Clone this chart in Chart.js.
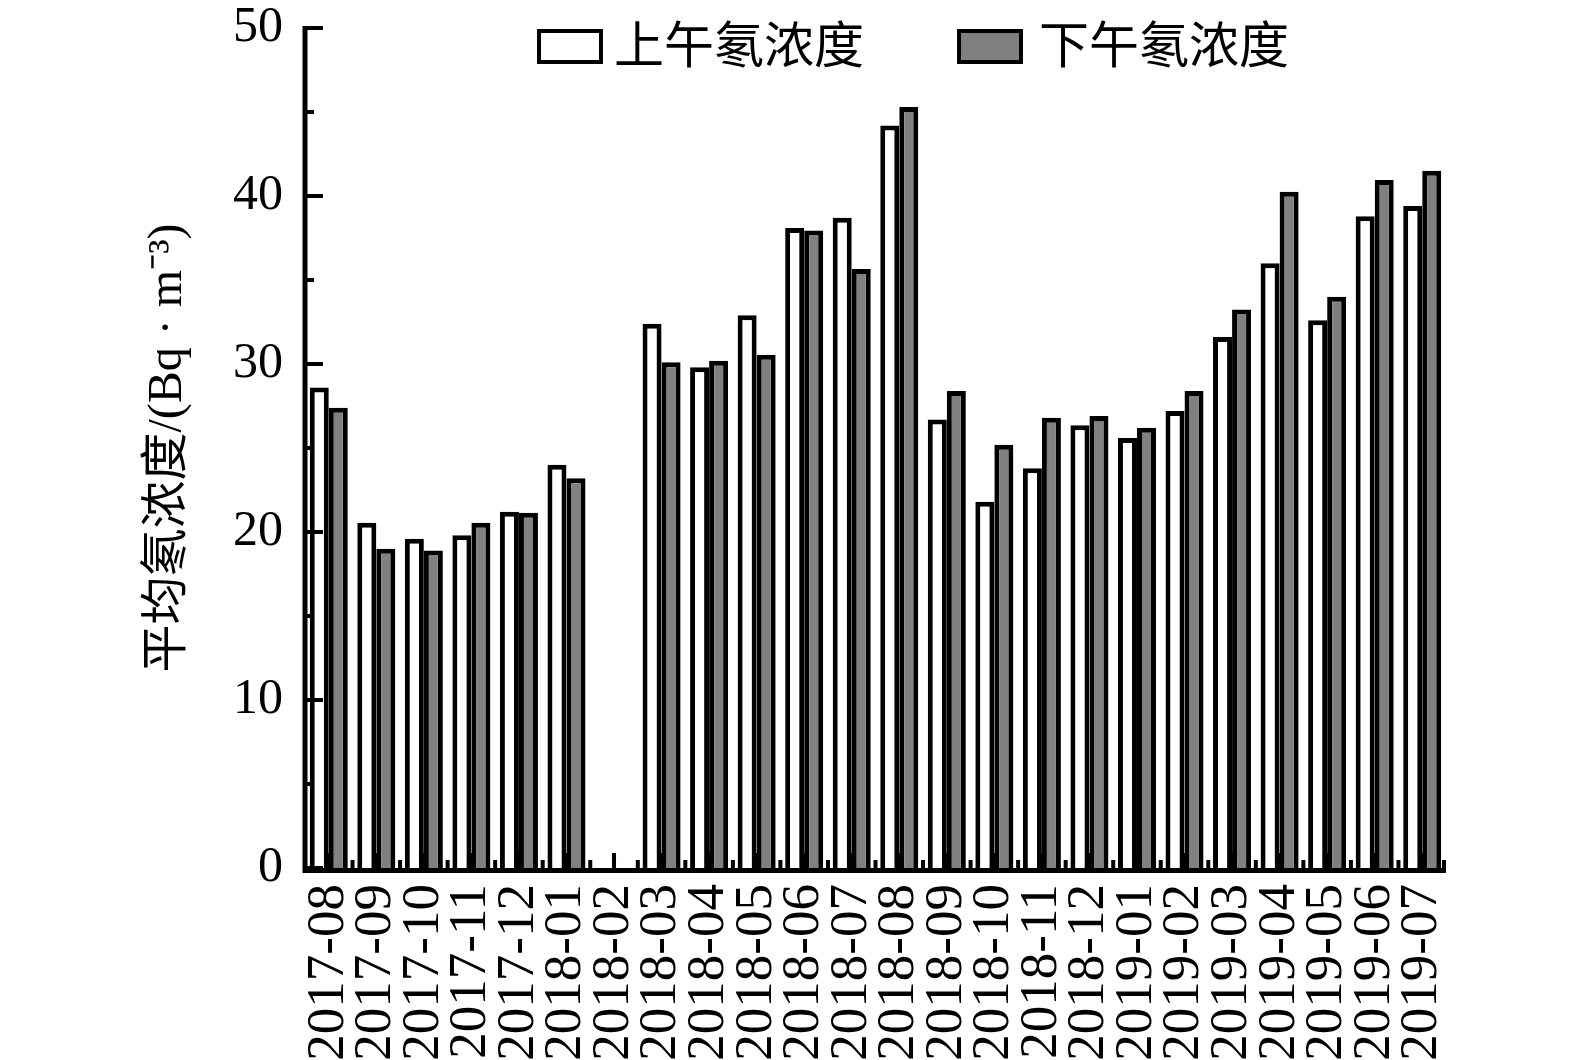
<!DOCTYPE html>
<html>
<head>
<meta charset="utf-8">
<script src="https://cdn.jsdelivr.net/npm/chart.js@4"></script>
<style>
  html, body { margin: 0; padding: 0; background: #fff; }
  canvas { display: block; }
</style>
</head>
<body>
<canvas id="radonChart" width="1575" height="1060"></canvas>
<script>
const months = ['2017-08', '2017-09', '2017-10', '2017-11', '2017-12', '2018-01', '2018-02', '2018-03',
  '2018-04', '2018-05', '2018-06', '2018-07', '2018-08', '2018-09', '2018-10', '2018-11', '2018-12',
  '2019-01', '2019-02', '2019-03', '2019-04', '2019-05', '2019-06', '2019-07'];
const morning = [28.6, 20.55, 19.6, 19.8, 21.2, 24.0, null, 32.4,
  29.8, 32.9, 38.1, 38.7, 44.2, 26.7, 21.8, 23.8, 26.35,
  25.6, 27.2, 31.6, 36.0, 32.6, 38.8, 39.4];
const afternoon = [27.4, 19.0, 18.9, 20.55, 21.15, 23.2, null, 30.1,
  30.2, 30.55, 37.95, 35.65, 45.3, 28.4, 25.2, 26.8, 26.9,
  26.2, 28.4, 33.25, 40.25, 34.0, 40.95, 41.5];
const yTicks = [0, 10, 20, 30, 40, 50];
const yMinorTicks = [5, 15, 25, 35, 45];

const serif = "'Liberation Serif', 'Times New Roman', serif";
const cjk = "'Noto Sans CJK SC', sans-serif";

// inward ticks, axis lines and the legend
const axisDecor = {
  id: 'axisDecor',
  afterDatasetsDraw(chart) {
    const { ctx, chartArea: a, scales: { x, y } } = chart;
    ctx.save();
    ctx.strokeStyle = '#000';
    ctx.lineWidth = 4;
    ctx.beginPath();
    yTicks.forEach(v => { const p = y.getPixelForValue(v); ctx.moveTo(a.left, p); ctx.lineTo(a.left + 18, p); });
    yMinorTicks.forEach(v => { const p = y.getPixelForValue(v); ctx.moveTo(a.left, p); ctx.lineTo(a.left + 9, p); });
    months.forEach((m, i) => {
      const c = x.getPixelForValue(i);
      ctx.moveTo(c, a.bottom); ctx.lineTo(c, a.bottom - 15);
      if (i < months.length - 1) {
        const b = (c + x.getPixelForValue(i + 1)) / 2;
        ctx.moveTo(b, a.bottom); ctx.lineTo(b, a.bottom - 8);
      }
    });
    ctx.moveTo(a.right - 2, a.bottom); ctx.lineTo(a.right - 2, a.bottom - 8);
    ctx.stroke();

    ctx.lineWidth = 5;
    ctx.beginPath();
    ctx.moveTo(a.left, a.top - 2);
    ctx.lineTo(a.left, a.bottom + 2.5);
    ctx.lineTo(a.right, a.bottom + 2.5);
    ctx.stroke();
    ctx.restore();
  },
  afterDraw(chart) {
    const { ctx } = chart;
    const spots = [{ box: 539, text: 614 }, { box: 959, text: 1039 }];
    ctx.save();
    chart.data.datasets.forEach((ds, i) => {
      const s = spots[i];
      ctx.fillStyle = ds.backgroundColor;
      ctx.fillRect(s.box, 31, 62, 31);
      ctx.strokeStyle = '#000';
      ctx.lineWidth = 4;
      ctx.strokeRect(s.box, 31, 62, 31);
      ctx.fillStyle = '#000';
      ctx.font = `50px ${cjk}`;
      ctx.textBaseline = 'middle';
      ctx.fillText(ds.label, s.text, 44);
    });
    ctx.restore();
  }
};

new Chart(document.getElementById('radonChart'), {
  type: 'bar',
  data: {
    labels: months,
    datasets: [
      {
        label: '上午氡浓度',
        data: morning,
        backgroundColor: '#ffffff',
        borderColor: '#000000',
        borderWidth: 5,
      },
      {
        label: '下午氡浓度',
        data: afternoon,
        backgroundColor: '#808080',
        borderColor: '#000000',
        borderWidth: 5,
      },
    ],
  },
  options: {
    responsive: false,
    devicePixelRatio: 1,
    animation: false,
    layout: { padding: { left: 0, right: 129, top: 28, bottom: 0 } },
    datasets: { bar: { categoryPercentage: 0.8, barPercentage: 1.0 } },
    plugins: { legend: { display: false }, tooltip: { enabled: false } },
    scales: {
      x: {
        grid: { display: false, drawTicks: false },
        border: { display: false },
        ticks: {
          autoSkip: false,
          minRotation: 90,
          maxRotation: 90,
          padding: 16,
          color: '#000',
          font: { family: serif, size: 53 },
        },
        afterFit(scale) {
          scale.height = 192;
          scale.paddingLeft = 0;
          scale.paddingRight = 0;
        },
      },
      y: {
        min: 0,
        max: 50,
        grid: { display: false, drawTicks: false },
        border: { display: false },
        ticks: {
          stepSize: 10,
          padding: 22,
          color: '#000',
          font: { family: serif, size: 50, lineHeight: 1 },
        },
        title: {
          display: true,
          text: '平均氡浓度/(Bq · m⁻³)',
          color: '#000',
          font: { family: `'Liberation Serif', 'Noto Sans CJK SC', serif`, size: 48, lineHeight: 1.2 },
          padding: { top: 140, bottom: 0 },
        },
        afterFit(scale) {
          scale.width = 305;
          scale.paddingTop = 0;
          scale.paddingBottom = 0;
        },
      },
    },
  },
  plugins: [axisDecor],
});
</script>
</body>
</html>
